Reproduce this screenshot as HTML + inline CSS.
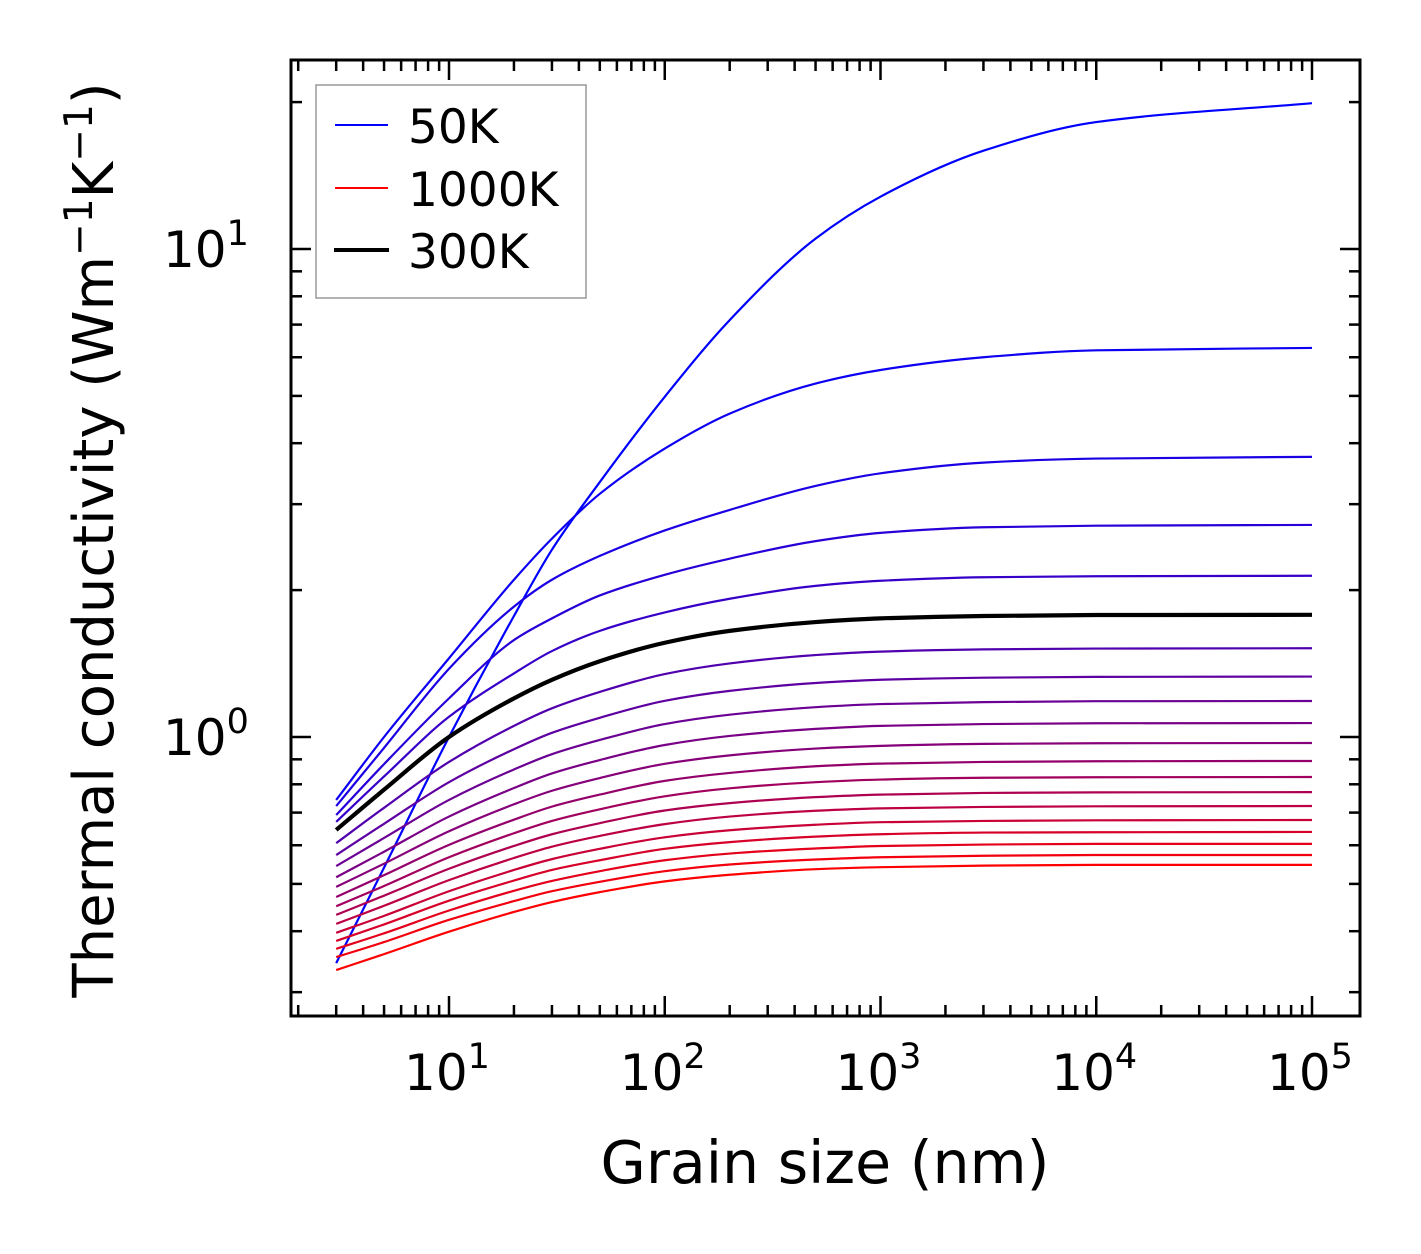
<!DOCTYPE html>
<html><head><meta charset="utf-8"><style>
body{margin:0;background:#fff}
svg{display:block;font-family:"DejaVu Sans","Liberation Sans",sans-serif}
</style></head><body>
<svg id="chart" width="1421" height="1254" viewBox="0 0 1421 1254" xmlns="http://www.w3.org/2000/svg">
<g id="curves"></g>
<g id="axes"></g>
<text x="825" y="1183" font-size="58.5" text-anchor="middle">Grain size (nm)</text>
<text transform="translate(113,540) rotate(-90)" font-size="56" text-anchor="middle">Thermal conductivity (Wm<tspan dy="-21" font-size="39">−1</tspan><tspan dy="21">K</tspan><tspan dy="-21" font-size="39">−1</tspan><tspan dy="21">)</tspan></text>
<g>
<rect x="316" y="85" width="270" height="213" fill="#fff" stroke="#999" stroke-width="1.5"/>
<line x1="335" y1="125" x2="388" y2="125" stroke="#00f" stroke-width="2"/>
<text x="408" y="143" font-size="47">50K</text>
<line x1="335" y1="188" x2="388" y2="188" stroke="#f00" stroke-width="2"/>
<text x="408" y="206" font-size="47">1000K</text>
<line x1="334" y1="250" x2="389" y2="250" stroke="#000" stroke-width="4"/>
<text x="408" y="268" font-size="47">300K</text>
</g>
</svg>
<script>
const grainSizes = [3, 5, 10, 20, 30, 50, 100, 200, 500, 1000, 3000, 10000, 100000];
const temperatures = [50,100,150,200,250,300,350,400,450,500,550,600,650,700,750,800,850,900,950,1000];
const k50 = [0.344,0.54,1.0,1.77,2.42,3.33,4.98,7.15,10.5,12.8,15.9,18.2,19.9];
const k100 = [0.743,1.0,1.45,2.1,2.55,3.15,3.9,4.6,5.3,5.65,6.0,6.2,6.27];
const k150 = [0.722,0.95,1.38,1.85,2.1,2.35,2.65,2.92,3.27,3.47,3.65,3.72,3.75];
const k200 = [0.692,0.88,1.2,1.58,1.75,1.95,2.15,2.32,2.52,2.62,2.69,2.71,2.72];
const k250 = [0.670,0.83,1.1,1.35,1.5,1.65,1.8,1.92,2.04,2.09,2.125,2.135,2.14];
const k300 = [0.645,0.78,1.0,1.2,1.31,1.43,1.56,1.65,1.72,1.75,1.77,1.778,1.78];
const k350 = [0.606,0.716,0.889,1.054,1.145,1.237,1.346,1.415,1.472,1.496,1.512,1.518,1.52];
const k400 = [0.573,0.664,0.808,0.944,1.020,1.095,1.186,1.243,1.290,1.310,1.323,1.328,1.33];
const k450 = [0.544,0.621,0.743,0.858,0.922,0.986,1.063,1.111,1.151,1.168,1.179,1.184,1.185];
const k500 = [0.516,0.582,0.687,0.786,0.842,0.897,0.963,1.005,1.039,1.054,1.063,1.067,1.068];
const k550 = [0.493,0.550,0.641,0.728,0.776,0.824,0.881,0.917,0.947,0.959,0.968,0.971,0.972];
const k600 = [0.470,0.521,0.601,0.677,0.720,0.762,0.813,0.844,0.871,0.882,0.889,0.892,0.893];
const k650 = [0.450,0.495,0.567,0.635,0.673,0.711,0.756,0.785,0.808,0.818,0.825,0.827,0.828];
const k700 = [0.432,0.473,0.537,0.598,0.632,0.666,0.707,0.732,0.753,0.762,0.768,0.770,0.771];
const k750 = [0.414,0.451,0.509,0.565,0.596,0.627,0.663,0.687,0.706,0.714,0.719,0.721,0.722];
const k800 = [0.397,0.430,0.483,0.534,0.562,0.590,0.623,0.644,0.661,0.669,0.673,0.675,0.676];
const k850 = [0.382,0.413,0.462,0.508,0.534,0.559,0.590,0.609,0.625,0.632,0.637,0.638,0.639];
const k900 = [0.368,0.396,0.441,0.484,0.507,0.531,0.559,0.577,0.591,0.598,0.602,0.604,0.604];
const k950 = [0.354,0.380,0.422,0.461,0.483,0.505,0.531,0.548,0.561,0.567,0.571,0.573,0.573];
const k1000 = [0.333,0.359,0.399,0.438,0.459,0.481,0.506,0.522,0.536,0.541,0.545,0.547,0.547];
const series = [k50,k100,k150,k200,k250,k300,k350,k400,k450,k500,k550,k600,k650,k700,k750,k800,k850,k900,k950,k1000];
const xTickLabels = ["1","2","3","4","5"];
const yTickLabels = ["0","1"];

const NS = "http://www.w3.org/2000/svg";
const L = 291, R = 1360, T = 60, B = 1016;
function xs(v){ return 449 + (Math.log10(v) - 1) * 215.75; }
function ys(v){ return 737 - Math.log10(v) * 488; }
function mk(tag, attrs, parent){ const e = document.createElementNS(NS, tag); for (const k in attrs) e.setAttribute(k, attrs[k]); parent.appendChild(e); return e; }

const curves = document.getElementById('curves');
function pathFor(vals){
  const p = grainSizes.map((g,i)=>[xs(g), ys(vals[i])]);
  const n = p.length;
  const dx = [], m = [], t = [];
  for (let i=0;i<n-1;i++){ dx.push(p[i+1][0]-p[i][0]); m.push((p[i+1][1]-p[i][1])/dx[i]); }
  t[0] = m[0]; t[n-1] = m[n-2];
  for (let i=1;i<n-1;i++){
    if (m[i-1]*m[i] <= 0) t[i] = 0;
    else { const w1 = 2*dx[i]+dx[i-1], w2 = dx[i]+2*dx[i-1]; t[i] = (w1+w2)/(w1/m[i-1]+w2/m[i]); }
  }
  let d = "M" + p[0][0] + "," + p[0][1];
  for (let i=0;i<n-1;i++){
    const h = dx[i]/3;
    d += " C" + (p[i][0]+h) + "," + (p[i][1]+t[i]*h) + " " + (p[i+1][0]-h) + "," + (p[i+1][1]-t[i+1]*h) + " " + p[i+1][0] + "," + p[i+1][1];
  }
  return d;
}
series.forEach((vals, i) => {
  if (temperatures[i] === 300) return;
  const f = i / (series.length - 1);
  const pth = mk('path', {d: pathFor(vals), fill: 'none', stroke: `rgb(${Math.round(255*f)},0,${Math.round(255*(1-f))})`, 'stroke-width': 2.2}, curves);
  
  
});
const idx300 = temperatures.indexOf(300);
const blk = mk('path', {d: pathFor(series[idx300]), fill: 'none', stroke: '#000', 'stroke-width': 4.2}, curves);



const axes = document.getElementById('axes');
const frame = mk('rect', {x: L, y: T, width: R-L, height: B-T, fill: 'none', stroke: '#000', 'stroke-width': 3}, axes);


function tick(x1,y1,x2,y2){ mk('line',{x1,y1,x2,y2,stroke:'#000','stroke-width':2.5},axes); }
for (let e=0;e<=5;e++){
  for (let mm=1;mm<10;mm++){
    const v = mm*Math.pow(10,e); const x = xs(v);
    if (x < L+2 || x > R-2) continue;
    const len = mm===1 ? 20 : 11;
    tick(x,B,x,B-len); tick(x,T,x,T+len);
  }
}
xTickLabels.forEach((lab, i) => {
  const x = xs(Math.pow(10, i+1));
  const t = mk('text', {x: x-2, y: 1090, 'font-size': 50, 'text-anchor': 'middle'}, axes);
  
  
  t.innerHTML = '10<tspan dy="-22" font-size="35">' + lab + '</tspan>';
});
for (let e=-1;e<=1;e++){
  for (let mm=1;mm<10;mm++){
    const v = mm*Math.pow(10,e); const y = ys(v);
    if (y < T+2 || y > B-2) continue;
    const len = mm===1 ? 20 : 11;
    tick(L,y,L+len,y); tick(R,y,R-len,y);
  }
}
yTickLabels.forEach((lab, i) => {
  const y = ys(Math.pow(10, i));
  const t = mk('text', {x: 163, y: y+18, 'font-size': 50}, axes);
  
  
  t.innerHTML = '10<tspan dy="-22" font-size="35">' + lab + '</tspan>';
});
</script>
</body></html>
